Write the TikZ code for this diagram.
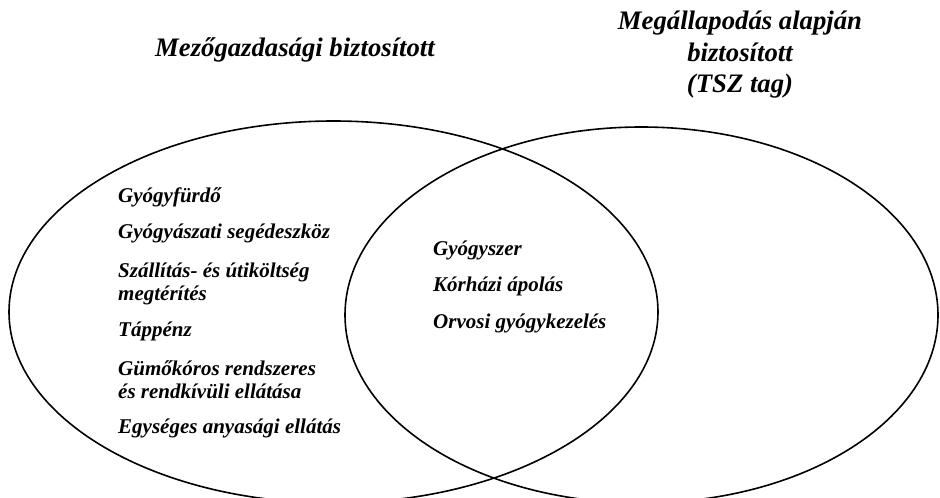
\documentclass[tikz,border=0pt]{standalone}
\usepackage{fontspec}
\setmainfont{Liberation Serif}
\usetikzlibrary{shapes.geometric}
\tikzset{
  venn/.style={draw=black, line width=1.6pt, ellipse, inner sep=0pt},
  item/.style={anchor=base west, inner sep=0pt, font=\fontsize{21}{23}\selectfont\bfseries\itshape},
  ttl/.style={anchor=base, inner sep=0pt, font=\fontsize{26.7}{30}\selectfont\bfseries\itshape}
}
\begin{document}
\begin{tikzpicture}[x=1pt,y=-1pt]
\useasboundingbox (0,0) rectangle (940,498);
\clip (0,0) rectangle (940,498);
\fill[white] (0,0) rectangle (940,498);
\node[venn, minimum width=649pt, minimum height=382pt] (L) at (333.5,312) {};
\node[venn, minimum width=593pt, minimum height=376pt] (R) at (641.5,315) {};
% titles
\node[ttl] (t1) at (295,56) {Mezőgazdasági biztosított};
\node[ttl] (t2a) at (740,29) {Megállapodás alapján};
\node[ttl] (t2b) at (740,61) {biztosított};
\node[ttl] (t2c) at (740,92) {(TSZ tag)};
% left items
\node[item] (a1) at (118,202) {Gyógyfürdő};
\node[item] (a2) at (118,238.5) {Gyógyászati segédeszköz};
\node[item] (a3) at (118,277) {Szállítás- és útiköltség};
\node[item] (a3b) at (118,300) {megtérítés};
\node[item] (a4) at (118,336.7) {Táppénz};
\node[item] (a5) at (118,375) {Gümőkóros rendszeres};
\node[item] (a5b) at (118,398.3) {és rendkívüli ellátása};
\node[item] (a6) at (118,433.3) {Egységes anyasági ellátás};
% middle items
\node[item] (b1) at (433,255) {Gyógyszer};
\node[item] (b2) at (433,291.7) {Kórházi ápolás};
\node[item] (b3) at (433,328.3) {Orvosi gyógykezelés};
\end{tikzpicture}
\end{document}
